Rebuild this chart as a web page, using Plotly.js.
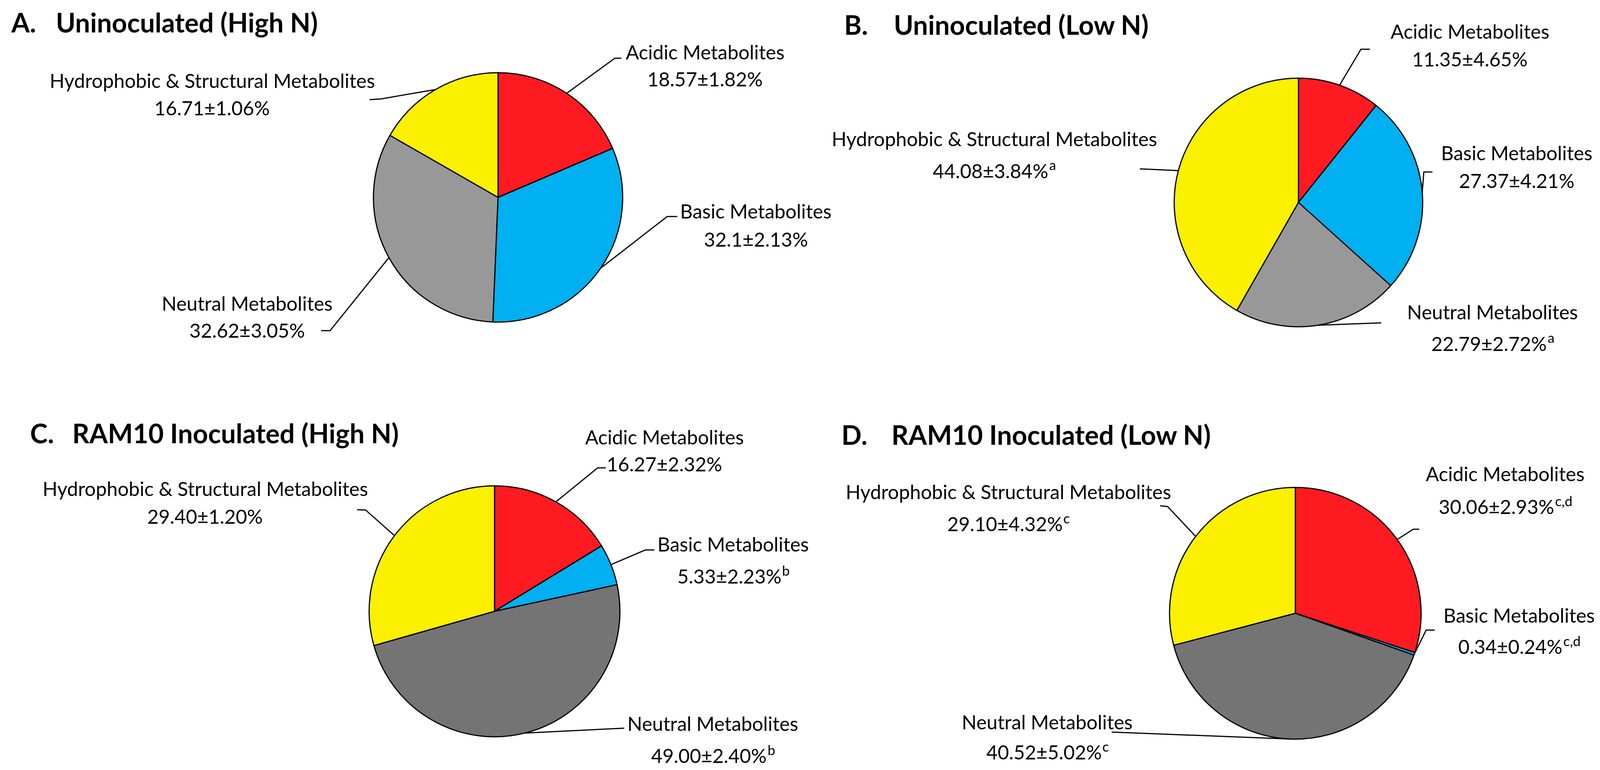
<!DOCTYPE html>
<html>
<head>
<meta charset="utf-8">
<script src="https://cdn.plot.ly/plotly-3.0.1.min.js"></script>
<style>html,body{margin:0;padding:0;background:#fff;}#chart{width:4107px;height:1970px;}</style>
</head>
<body>
<div id="chart"></div>
<script>
// ---------------- DATA ----------------
const categories = ["Acidic Metabolites", "Basic Metabolites", "Neutral Metabolites", "Hydrophobic & Structural Metabolites"];
const panelLetters = ["A.", "B.", "C.", "D."];
const panelTitles = ["Uninoculated (High N)", "Uninoculated (Low N)", "RAM10 Inoculated (High N)", "RAM10 Inoculated (Low N)"];

const meanA = ["18.57", "32.1", "32.62", "16.71"];
const sdA   = ["1.82", "2.13", "3.05", "1.06"];
const supA  = ["", "", "", ""];

const meanB = ["11.35", "27.37", "22.79", "44.08"];
const sdB   = ["4.65", "4.21", "2.72", "3.84"];
const supB  = ["", "", "a", "a"];

const meanC = ["16.27", "5.33", "49.00", "29.40"];
const sdC   = ["2.32", "2.23", "2.40", "1.20"];
const supC  = ["", "b", "b", ""];

const meanD = ["30.06", "0.34", "40.52", "29.10"];
const sdD   = ["2.93", "0.24", "5.02", "4.32"];
const supD  = ["c,d", "c,d", "c", "c"];

// ---------------- LAYOUT / STYLE ----------------
const W = 4107, H = 1970;
const FONT = "Lato, 'Open Sans', sans-serif";
const sliceColors = ["#FE1A21", "#00B0F0", null, "#FAF000"];
const greyLight = "#989898", greyDark = "#747474";

const panels = [
  {mean: meanA, sd: sdA, sup: supA, cx: 1275, cy: 505, r: 319, grey: greyLight,
   letterX: 26, titleX: 141, titleY: 57,
   labels: [
     {cx: 1805, y1: 133, y2: 202, elbow: [1574, 149], tail: [1591, 149]},
     {cx: 1935, y1: 540, y2: 612, elbow: [1708, 554], tail: [1734, 554]},
     {cx: 633,  y1: 776, y2: 845, elbow: [845, 846], tail: [822, 846]},
     {cx: 543,  y1: 206, y2: 276, elbow: [976, 253], tail: [946, 255]}
   ]},
  {mean: meanB, sd: sdB, sup: supB, cx: 3324, cy: 518, r: 318, grey: greyLight,
   letterX: 2159, titleX: 2286, titleY: 63,
   labels: [
     {cx: 3763, y1: 80,  y2: 151, elbow: [3484, 126], tail: [3507, 126]},
     {cx: 3883, y1: 391, y2: 462, elbow: [3645, 440], tail: [3667, 440]},
     {cx: 3821, y1: 798, y2: 879, elbow: [3536, 826], tail: [3536, 826]},
     {cx: 2545, y1: 355, y2: 437, elbow: [2918, 432], tail: [2918, 432]}
   ]},
  {mean: meanC, sd: sdC, sup: supC, cx: 1266, cy: 1564, r: 321, grey: greyDark,
   letterX: 75, titleX: 183, titleY: 1107,
   labels: [
     {cx: 1701, y1: 1118, y2: 1187, elbow: [1530, 1197], tail: [1551, 1197]},
     {cx: 1877, y1: 1392, y2: 1474, elbow: [1652, 1407], tail: [1675, 1407]},
     {cx: 1825, y1: 1851, y2: 1933, elbow: [1598, 1863], tail: [1598, 1863]},
     {cx: 525,  y1: 1250, y2: 1321, elbow: [936, 1305], tail: [914, 1304]}
   ]},
  {mean: meanD, sd: sdD, sup: supD, cx: 3316, cy: 1569, r: 322, grey: greyDark,
   letterX: 2152, titleX: 2280, titleY: 1111,
   labels: [
     {cx: 3853, y1: 1212, y2: 1296, elbow: [3618, 1354], tail: [3633, 1354]},
     {cx: 3889, y1: 1574, y2: 1654, elbow: [3651, 1612], tail: [3673, 1612]},
     {cx: 2681, y1: 1847, y2: 1924, elbow: [2846, 1873], tail: [2846, 1873]},
     {cx: 2581, y1: 1258, y2: 1340, elbow: [2989, 1296], tail: [2970, 1294]}
   ]}
];

const measureCtx = document.createElement("canvas").getContext("2d");
function textWidth(text, weight, size) {
  measureCtx.font = weight + " " + size + "px Lato";
  return measureCtx.measureText(text).width;
}
function fitSize(text, weight, target, fallback) {
  const w = textWidth(text, weight, 100);
  return w > 0 ? Math.round(100 * target / w) : fallback;
}
const labelSize = fitSize("Hydrophobic & Structural Metabolites", "normal", 837, 48);
const titleSize = fitSize("Uninoculated (High N)", "bold", 668, 58);
const supSize = Math.round(labelSize * 0.7);

const px = x => x / W;
const py = y => 1 - y / H;

const traces = [], annotations = [], shapes = [];

panels.forEach((p, k) => {
  const values = p.mean.map(parseFloat);
  const colors = sliceColors.map(c => c === null ? p.grey : c);
  traces.push({
    type: "pie",
    name: panelTitles[k],
    values: values,
    labels: categories,
    sort: false,
    direction: "clockwise",
    rotation: 0,
    textinfo: "none",
    textposition: "none",
    hoverinfo: "skip",
    showlegend: false,
    marker: {colors: colors, line: {color: "#000000", width: 3}},
    domain: {x: [px(p.cx - p.r), px(p.cx + p.r)], y: [py(p.cy + p.r), py(p.cy - p.r)]}
  });

  // titles (bold via font weight)
  annotations.push({xref: "paper", yref: "paper", x: px(p.letterX), y: py(p.titleY),
    xanchor: "left", yanchor: "middle", showarrow: false, text: panelLetters[k],
    font: {family: FONT, size: titleSize, color: "#000", weight: 700}});
  annotations.push({xref: "paper", yref: "paper", x: px(p.titleX), y: py(p.titleY),
    xanchor: "left", yanchor: "middle", showarrow: false, text: panelTitles[k],
    font: {family: FONT, size: titleSize, color: "#000", weight: 700}});

  // category labels + values + leader lines (leader starts at each slice's mid-angle)
  const total = values.reduce((a, b) => a + b, 0);
  let cum = 0;
  values.forEach((v, i) => {
    const mid = (cum + v / 2) / total;
    cum += v;
    const th = 2 * Math.PI * mid;
    const tx = p.cx + p.r * Math.sin(th), ty = p.cy - p.r * Math.cos(th);
    const L = p.labels[i];
    shapes.push({type: "path", xref: "paper", yref: "paper",
      path: `M ${px(tx)} ${py(ty)} L ${px(L.elbow[0])} ${py(L.elbow[1])} L ${px(L.tail[0])} ${py(L.tail[1])}`,
      line: {color: "#000000", width: 3}});
    annotations.push({xref: "paper", yref: "paper", x: px(L.cx), y: py(L.y1),
      xanchor: "center", yanchor: "middle", showarrow: false, text: categories[i],
      font: {family: FONT, size: labelSize, color: "#000"}});

    const mainText = p.mean[i] + "±" + p.sd[i] + "%";
    if (!p.sup[i]) {
      annotations.push({xref: "paper", yref: "paper", x: px(L.cx), y: py(L.y2),
        xanchor: "center", yanchor: "middle", showarrow: false, text: mainText,
        font: {family: FONT, size: labelSize, color: "#000"}});
    } else {
      const wMain = textWidth(mainText, "normal", labelSize);
      const wSup = textWidth(p.sup[i], "normal", supSize);
      const x0 = L.cx - (wMain + wSup) / 2;
      annotations.push({xref: "paper", yref: "paper", x: px(x0 + wMain / 2), y: py(L.y2),
        xanchor: "center", yanchor: "middle", showarrow: false, text: mainText,
        font: {family: FONT, size: labelSize, color: "#000"}});
      annotations.push({xref: "paper", yref: "paper", x: px(x0 + wMain + 2 + wSup / 2), y: py(L.y2 - 0.31 * labelSize),
        xanchor: "center", yanchor: "middle", showarrow: false, text: p.sup[i],
        font: {family: FONT, size: supSize, color: "#000"}});
    }
  });
});

const layout = {
  width: W, height: H,
  margin: {l: 0, r: 0, t: 0, b: 0, pad: 0},
  paper_bgcolor: "#ffffff", plot_bgcolor: "#ffffff",
  showlegend: false,
  annotations: annotations,
  shapes: shapes
};

Plotly.newPlot("chart", traces, layout, {displayModeBar: false, staticPlot: true});
</script>
</body>
</html>
